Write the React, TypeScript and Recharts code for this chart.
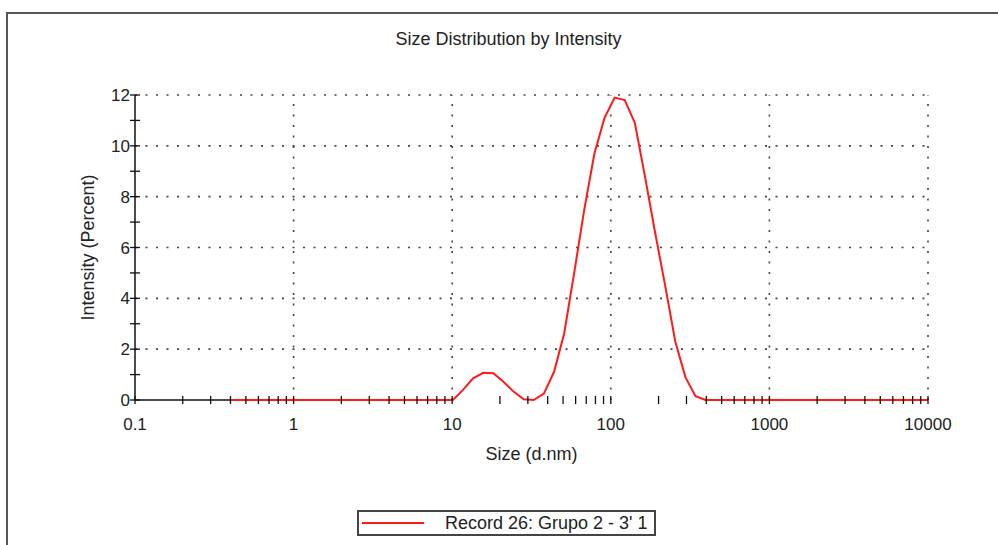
import { LineChart, Line, XAxis, YAxis, ReferenceLine } from "recharts"

// Malvern size classes (d.nm)
const sizes = [
  0.4, 0.4632, 0.5365, 0.6213, 0.7195, 0.8332, 0.9649, 1.117, 1.294, 1.499,
  1.736, 2.01, 2.328, 2.696, 3.122, 3.615, 4.187, 4.849, 5.615, 6.503,
  7.531, 8.721, 10.1, 11.7, 13.54, 15.69, 18.17, 21.04, 24.36, 28.21,
  32.67, 37.84, 43.82, 50.75, 58.77, 68.06, 78.82, 91.28, 105.7, 122.4,
  141.8, 164.2, 190.1, 220.2, 255.0, 295.3, 342.0, 396.1, 458.7, 531.2,
  615.1, 712.4, 825.0, 955.4, 1106, 1281, 1484, 1718, 1990, 2305,
  2669, 3091, 3580, 4145, 4801, 5560, 6439, 7456, 8635, 10000,
]

// intensity (%) per size class
const intensity = [
  0, 0, 0, 0, 0, 0, 0, 0, 0, 0,
  0, 0, 0, 0, 0, 0, 0, 0, 0, 0,
  0, 0, 0, 0.4, 0.85, 1.07, 1.05, 0.72, 0.33, 0.03,
  0, 0.25, 1.1, 2.6, 5.0, 7.5, 9.7, 11.1, 11.9, 11.8,
  10.9, 8.8, 6.6, 4.5, 2.3, 0.9, 0.15, 0, 0, 0,
  0, 0, 0, 0, 0, 0, 0, 0, 0, 0,
  0, 0, 0, 0, 0, 0, 0, 0, 0, 0,
]

const xMajor = [0.1, 1, 10, 100, 1000, 10000]
const xMinor = [
  0.2, 0.3, 0.4, 0.5, 0.6, 0.7, 0.8, 0.9,
  2, 3, 4, 5, 6, 7, 8, 9,
  20, 30, 40, 50, 60, 70, 80, 90,
  200, 300, 400, 500, 600, 700, 800, 900,
  2000, 3000, 4000, 5000, 6000, 7000, 8000, 9000,
]
const yMajor = [0, 2, 4, 6, 8, 10, 12]
const yMinor = [1, 3, 5, 7, 9, 11]

const seriesName = "Record 26: Grupo 2 - 3' 1"

const data = sizes.map((s, i) => ({ size: s, intensity: intensity[i] }))

const FONT = '"Liberation Sans", Arial, sans-serif'
const INK = "#222"
const RED = "#ff1a1a"

const XTick = (props: any) => {
  const { x, y, payload } = props
  const major = xMajor.includes(payload.value)
  return (
    <g>
      <line x1={x} x2={x} y1={y - 4} y2={y + 4} stroke="#111" strokeWidth={1.3} />
      {major && (
        <text x={x} y={y + 30} textAnchor="middle" fontSize={17} fill={INK} fontFamily={FONT}>
          {String(payload.value)}
        </text>
      )}
    </g>
  )
}

const YTick = (props: any) => {
  const { x, y, payload } = props
  const major = yMajor.includes(payload.value)
  return (
    <g>
      <line x1={x - 5} x2={x + 5} y1={y} y2={y} stroke="#111" strokeWidth={1.3} />
      {major && (
        <text x={x - 5} y={y} dy="0.36em" textAnchor="end" fontSize={17} fill={INK} fontFamily={FONT}>
          {payload.value}
        </text>
      )}
    </g>
  )
}

export default function App() {
  return (
    <div
      style={{
        position: "absolute", left: 0, top: 0, width: 998, height: 545,
        background: "#fff", overflow: "hidden", fontFamily: FONT,
      }}
    >
      {/* outer frame */}
      <div style={{ position: "absolute", left: 6, top: 12, right: 0, height: 2, background: "#555" }} />
      <div style={{ position: "absolute", left: 6, top: 12, bottom: 0, width: 2, background: "#555" }} />

      <div
        style={{
          position: "absolute", left: 0, top: 30, width: 1017, textAlign: "center",
          fontSize: 18, lineHeight: "18px", color: INK,
        }}
      >
        Size Distribution by Intensity
      </div>

      <div style={{ position: "absolute", left: 0, top: 0 }}>
        <LineChart width={998} height={545} data={data} margin={{ top: 95, right: 70, bottom: 85, left: 75 }}>
          {yMajor.slice(1).map((v) => (
            <ReferenceLine key={"h" + v} y={v} stroke="#444" strokeWidth={1.6} strokeDasharray="2 8.5" />
          ))}
          {xMajor.slice(1).map((v) => (
            <ReferenceLine key={"v" + v} x={v} stroke="#444" strokeWidth={1.6} strokeDasharray="2 8.5" />
          ))}
          {/* black baseline only where the series does not cover it */}
          <ReferenceLine
            segment={[{ x: xMajor[0], y: 0 }, { x: sizes[0], y: 0 }]}
            stroke="#111"
            strokeWidth={1.5}
          />
          <XAxis
            dataKey="size"
            type="number"
            scale="log"
            domain={[0.1, 10000]}
            ticks={[...xMajor, ...xMinor]}
            interval={0}
            height={60}
            tickSize={0}
            tickMargin={0}
            tickLine={false}
            axisLine={false}
            tick={<XTick />}
            label={{
              content: ({ viewBox }: any) => (
                <text
                  x={viewBox.x + viewBox.width / 2}
                  y={viewBox.y + 60}
                  textAnchor="middle"
                  fontSize={18}
                  fill={INK}
                  fontFamily={FONT}
                >
                  Size (d.nm)
                </text>
              ),
            }}
          />
          <YAxis
            type="number"
            domain={[0, 12]}
            ticks={[...yMajor, ...yMinor].sort((a, b) => a - b)}
            interval={0}
            width={60}
            tickSize={0}
            tickMargin={0}
            tickLine={false}
            axisLine={{ stroke: "#111", strokeWidth: 1.5 }}
            tick={<YTick />}
            label={{
              content: ({ viewBox }: any) => {
                const cx = viewBox.x + 13
                const cy = viewBox.y + viewBox.height / 2
                return (
                  <text
                    x={cx}
                    y={cy}
                    dy="0.35em"
                    transform={`rotate(-90 ${cx} ${cy})`}
                    textAnchor="middle"
                    fontSize={18}
                    fill={INK}
                    fontFamily={FONT}
                  >
                    Intensity (Percent)
                  </text>
                )
              },
            }}
          />
          <Line
            type="linear"
            dataKey="intensity"
            name={seriesName}
            stroke={RED}
            strokeWidth={2}
            dot={false}
            activeDot={false}
            isAnimationActive={false}
          />
        </LineChart>
      </div>

      {/* legend */}
      <div
        style={{
          position: "absolute", left: 357, top: 510, width: 299, height: 26,
          boxSizing: "border-box", border: "2px solid #444", background: "#fff",
        }}
      >
        <div style={{ position: "absolute", left: 3, top: 10, width: 62, height: 2, background: RED }} />
        <div
          style={{
            position: "absolute", left: 86, top: 2, fontSize: 18, lineHeight: "18px",
            color: INK, whiteSpace: "nowrap",
          }}
        >
          {seriesName}
        </div>
      </div>
    </div>
  )
}
